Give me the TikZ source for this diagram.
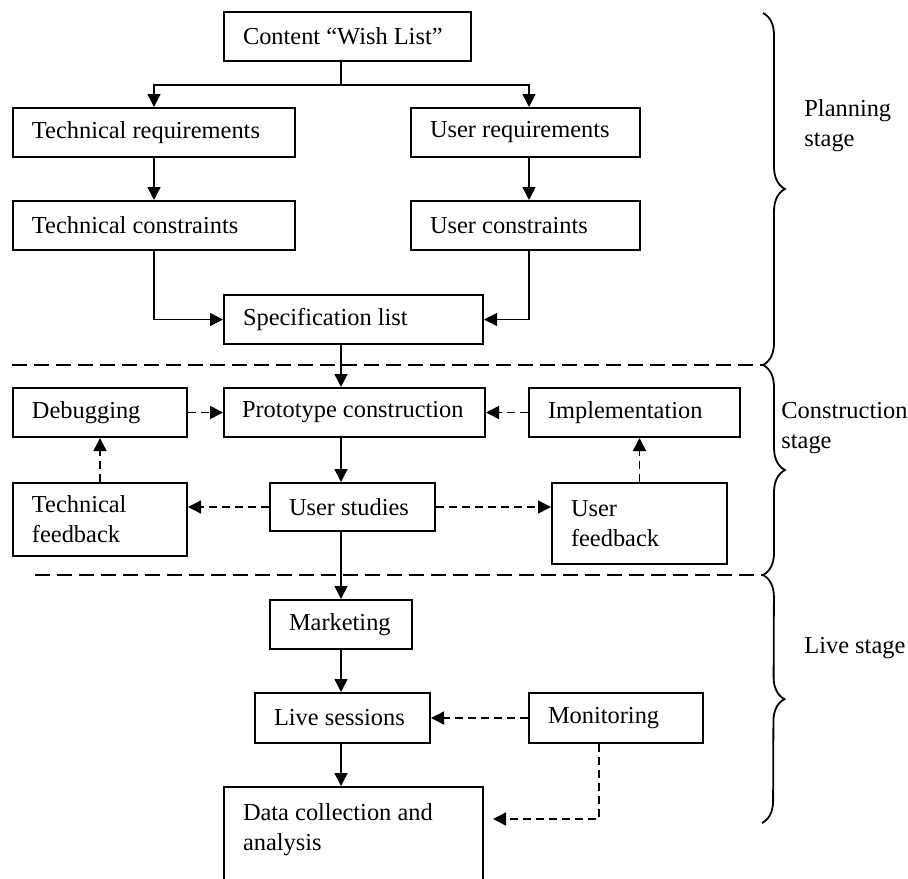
\documentclass[tikz,border=0pt]{standalone}
\usepackage{fontspec}
\setmainfont{Liberation Serif}
\usetikzlibrary{arrows.meta,decorations.pathreplacing}
\tikzstyle{flowbox} = [draw=black, line width=1pt, rectangle, anchor=north west,
    inner xsep=9.5pt, inner ysep=0pt, align=flush left, font=\fontsize{12.2}{15}\selectfont]
\tikzstyle{flowarrow} = [draw=black, line width=0.75pt, -{Triangle[length=6.5pt,width=6.5pt]}]
\tikzstyle{feedarrow} = [flowarrow, dash pattern=on 4pt off 2.5pt]
\tikzstyle{stageline} = [draw=black, line width=0.85pt, dash pattern=on 7.5pt off 3.5pt]
\tikzstyle{stagebrace} = [draw=black, line width=0.9pt, decorate, decoration={brace, amplitude=11pt}]
\tikzstyle{stagelabel} = [anchor=north west, inner sep=0pt, align=flush left, font=\fontsize{12.2}{15}\selectfont]

\begin{document}
\begin{tikzpicture}[x=0.5pt, y=-0.5pt]
\useasboundingbox (0,0) rectangle (908,878);
\clip (0,0) rectangle (908,878);
\coordinate (axis) at (341,0);

% planning stage
\node[flowbox, text width=104.5pt, minimum height=24.5pt] (wish) at (223,11) {Content “Wish List”};
\node[flowbox, text width=122pt, minimum height=24.5pt] (techreq) at (12,107) {Technical requirements};
\node[flowbox, text width=95.5pt, minimum height=24.5pt] (userreq) at (410,107) {User requirements};
\node[flowbox, text width=122pt, minimum height=24.5pt] (techcon) at (12,200) {Technical constraints};
\node[flowbox, text width=95.5pt, minimum height=24.5pt] (usercon) at (410,200) {User constraints};
\node[flowbox, text width=110.5pt, minimum height=24.5pt] (spec) at (223,294) {Specification list};

% construction stage
\node[flowbox, inner xsep=9pt, text width=112.5pt, minimum height=24.5pt] (proto) at (223,387) {Prototype construction};
\node[flowbox, text width=68pt, minimum height=24.5pt] (debug) at (12,387) {Debugging};
\node[flowbox, text width=86.5pt, minimum height=24.5pt] (impl) at (528,387) {Implementation};
\node[flowbox, text width=68pt, minimum height=36.5pt] (techfb) at (12,482) {Technical\\feedback};
\node[flowbox, text width=63.5pt, minimum height=24pt] (studies) at (269,482) {User studies};
\node[flowbox, text width=68.5pt, minimum height=40.5pt] (userfb) at (551,482) {User\\feedback};

% live stage
\node[flowbox, text width=52pt, minimum height=24.5pt] (market) at (269,599) {Marketing};
\node[flowbox, text width=68.5pt, minimum height=25pt] (live) at (254,692) {Live sessions};
\node[flowbox, text width=68pt, minimum height=25pt] (monitor) at (528,692) {Monitoring};
\node[flowbox, text width=110.5pt, inner ysep=8.5pt, text depth=50pt] (data) at (223,786) {Data collection and\\analysis};
\coordinate (datain) at (493,819);

% connectors
\draw[line width=0.75pt] (wish.south -| axis) -- ++(0,23) coordinate (split);
\draw[flowarrow] (split) -| (techreq.north);
\draw[flowarrow] (split) -| ([xshift=1.75pt]userreq.north);
\draw[flowarrow] (techreq) -- (techcon);
\draw[flowarrow] ([xshift=1.75pt]userreq.south) -- ([xshift=1.75pt]usercon.north);
\draw[flowarrow] (techcon.south) |- (spec.west);
\draw[flowarrow] ([xshift=1.75pt]usercon.south) |- (spec.east);
\draw[flowarrow] (spec.south -| axis) -- (proto.north -| axis);
\draw[feedarrow] (debug) -- (proto);
\draw[feedarrow] (impl) -- (proto);
\draw[flowarrow] (proto.south -| axis) -- (studies.north -| axis);
\draw[feedarrow] (studies.west) -- (studies.west -| techfb.east);
\draw[feedarrow] (studies.east) -- (studies.east -| userfb.west);
\draw[feedarrow] (techfb) -- (debug);
\draw[feedarrow] (userfb.north) -- (userfb.north |- impl.south);
\draw[flowarrow] (studies.south -| axis) -- (market.north -| axis);
\draw[flowarrow] (market.south -| axis) -- (live.north -| axis);
\draw[feedarrow] (monitor) -- (live);
\draw[flowarrow] (live.south -| axis) -- (data.north -| axis);
\draw[feedarrow] ([xshift=-8.5pt]monitor.south) |- (datain);

% stages
\coordinate (plantop) at (763,13);
\coordinate (planend) at (763,365);
\coordinate (constrend) at (763,575);
\coordinate (liveend) at (762,823);
\draw[stageline] (12,365) -- (planend);
\draw[stageline] (35,575) -- (constrend);
\draw[stagebrace] (plantop) -- (planend);
\draw[stagebrace] (planend) -- (constrend);
\draw[stagebrace] (constrend) -- (liveend);
\node[stagelabel] (planlabel) at (804,99) {Planning\\stage};
\node[stagelabel] (constrlabel) at (781,402) {Construction\\stage};
\node[stagelabel] (livelabel) at (804,637) {Live stage};
\end{tikzpicture}
\end{document}
